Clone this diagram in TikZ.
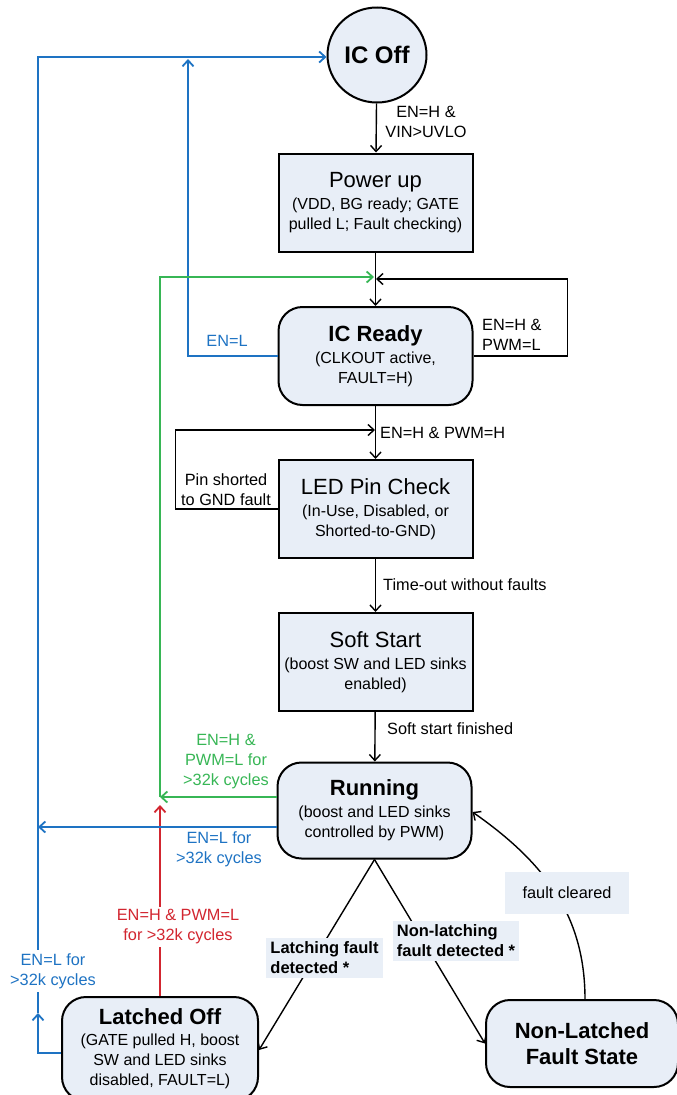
\documentclass[tikz,border=0pt]{standalone}
\usepackage{fontspec}
\setmainfont{Liberation Sans}
\usetikzlibrary{arrows.meta,shapes.geometric,calc}
\definecolor{boxfill}{RGB}{232,238,247}
\definecolor{lblfill}{RGB}{233,239,247}
\definecolor{cblue}{RGB}{30,115,195}
\definecolor{cgreen}{RGB}{55,182,85}
\definecolor{cred}{RGB}{210,38,48}
\newcommand\mySub{\fontsize{16}{20}\selectfont}
\newcommand\myTtl{\fontsize{22}{24}\selectfont}
\newcommand\myLbl{\fontsize{16.3}{20}\selectfont}
\tikzset{
  st/.style={draw=black, line width=2pt, fill=boxfill, minimum width=194pt,
    minimum height=98pt, align=center, inner sep=0pt, font=\mySub},
  rst/.style={st, rounded corners=24pt},
  tip/.style={-{Straight Barb[length=6pt,width=11pt]}},
  arr/.style={tip, line width=1.4pt, draw=black},
  barr/.style={tip, line width=1.8pt, draw=cblue},
  bline/.style={line width=1.8pt, draw=cblue},
  garr/.style={tip, line width=1.8pt, draw=cgreen},
  rarr/.style={tip, line width=1.8pt, draw=cred},
  lbl/.style={font=\myLbl, inner sep=1pt},
  wlbl/.style={lbl, fill=white, align=center, inner sep=3pt},
  flbl/.style={font=\fontsize{16.5}{20}\selectfont\bfseries, fill=lblfill, align=left, inner xsep=4pt, inner ysep=4pt},
}
\begin{document}
\begin{tikzpicture}[x=1pt,y=-1pt]
\useasboundingbox (0,0) rectangle (677,1095);
% states
\node[ellipse, draw=black, line width=2pt, fill=boxfill, minimum width=99pt, minimum height=95pt, inner sep=0pt,
  font=\fontsize{24}{26}\selectfont\bfseries] (icoff) at (377,55) {IC Off};
\node[st] (power) at (375.5,202.5) {{\myTtl Power up}\\[2pt](VDD, BG ready; GATE\\pulled L; Fault checking)};
\node[rst] (icready) at (375.5,356) {{\myTtl\bfseries IC Ready}\\[2pt](CLKOUT active,\\FAULT=H)};
\node[st] (ledcheck) at (375.5,509) {{\myTtl LED Pin Check}\\[2pt](In-Use, Disabled, or\\Shorted-to-GND)};
\node[st] (soft) at (375.5,662) {{\myTtl Soft Start}\\[2pt](boost SW and LED sinks\\enabled)};
\node[rst, minimum height=96pt] (running) at (374.5,810.5) {{\myTtl\bfseries Running}\\[2pt](boost and LED sinks\\controlled by PWM)};
\node[rst, minimum width=196pt, minimum height=104pt] (latched) at (160,1049) {{\myTtl\bfseries Latched Off}\\[1pt](GATE pulled H, boost\\SW and LED sinks\\disabled, FAULT=L)};
\node[rst, minimum width=192pt, minimum height=87pt, font=\fontsize{22}{26.5}\selectfont\bfseries] (nonlatched) at (582,1043.5) {Non-Latched\\Fault State};

% junctions
\coordinate (j1g) at (374,277);
\coordinate (j1b) at (376,279);
\coordinate (j2) at (375,430);
\coordinate (gm) at (160,797);
\coordinate (rm) at (160,805);
\coordinate (b1) at (38,827);
\coordinate (b2) at (38,1013);
\coordinate (bu) at (188,59);

% main flow
\draw[arr] (icoff) -- (power);
\node[lbl, align=center] (l1) at (426,122) {EN=H \&\\VIN>UVLO};
\draw[arr] (power) -- (icready);
\draw[arr] (icready) -- (ledcheck);
\node[lbl, anchor=west] (l2) at (379,433) {EN=H \& PWM=H};
\draw[arr] (ledcheck) -- (soft);
\node[lbl, anchor=west] (l3) at (382,585) {Time-out without faults};
\draw[arr] (soft) -- (running);
\node[lbl, anchor=west] (l4) at (386,729) {Soft start finished};

% IC Ready self loop
\draw[arr] (icready.east) -- ++(94,0) |- (j1b);
\node[lbl, anchor=west, align=left] (l5) at (481,335) {EN=H \&\\PWM=L};

% LED check loop
\draw[arr] (ledcheck.west) -- ++(-102,0) |- (j2);
\node[lbl, align=center] (l6) at (226,490) {Pin shorted\\to GND fault};

% IC Ready -> IC Off (EN=L)
\draw[barr] (icready.west) -| (bu);
\node[lbl, text=cblue] (l7) at (227,341) {EN=L};

% green return to IC Ready
\draw[garr] ([yshift=13.5pt]running.west) -- (gm);
\draw[garr] (gm) |- (j1g);
\node[lbl, text=cgreen, align=center] (l8) at (226,762) {EN=H \&\\PWM=L for\\>32k cycles};

% red from Latched Off
\draw[rarr] (latched.north -| rm) -- (rm);
\node[wlbl, text=cred] (l9) at (178,927) {EN=H \& PWM=L\\for >32k cycles};

% blue to IC Off
\draw[barr] ([yshift=-16.5pt]running.west) -- (b1);
\node[lbl, text=cblue, align=center] (l10) at (219,849) {EN=L for\\>32k cycles};
\draw[barr] ([yshift=-4pt]latched.west) -| (b2);
\draw[bline] (b2) -- (b1);
\node[wlbl, text=cblue] (l11) at (53,971) {EN=L for\\>32k cycles};
\draw[barr] (b1) |- ([yshift=-2pt]icoff.west);

% faults
\draw[arr] (running.south) -- ([yshift=-1pt]latched.east);
\node[flbl] (l12) at (324.5,958) {Latching fault\\detected *};
\draw[arr] (running.south) -- (nonlatched.west);
\node[flbl] (l13) at (456,941) {Non-latching\\fault detected *};
\draw[arr] ([xshift=3pt]nonlatched.north) to[out=90,in=-35] ([yshift=-1.5pt]running.east);
\node[font=\myLbl, fill=lblfill, minimum width=124pt, minimum height=42pt, inner sep=0pt] (l14) at (567,893) {fault cleared};
\end{tikzpicture}
\end{document}
